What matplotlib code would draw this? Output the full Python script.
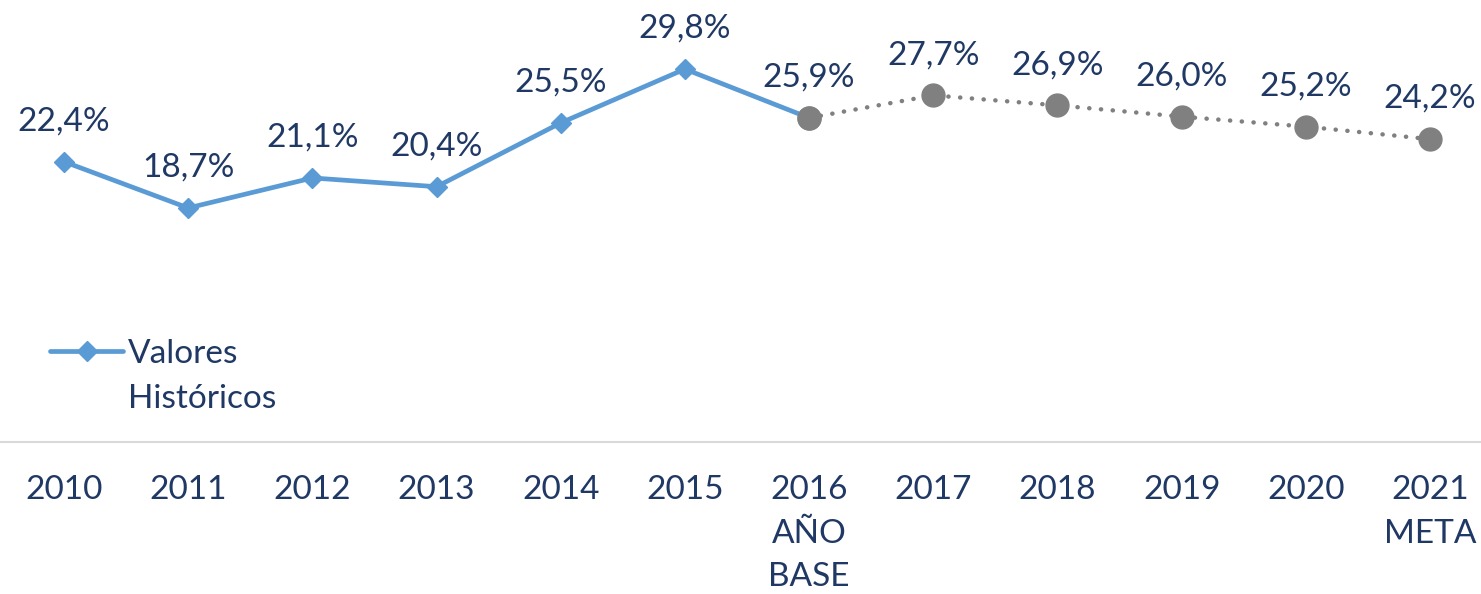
import matplotlib
matplotlib.use("Agg")
import matplotlib.pyplot as plt
from matplotlib.lines import Line2D

categories = ["2010", "2011", "2012", "2013", "2014", "2015", "2016\nAÑO\nBASE",
              "2017", "2018", "2019", "2020", "2021\nMETA"]
historical = [22.4, 18.7, 21.1, 20.4, 25.5, 29.8, 25.9]
projected = [25.9, 27.7, 26.9, 26.0, 25.2, 24.2]
legend_label = "Valores\nHistóricos"

BLUE = "#5B9BD5"
GRAY = "#808080"
TEXT = "#1F3864"
FS = 24

plt.rcParams['font.family'] = ['Lato', 'DejaVu Sans']

W, H = 1481, 594
fig = plt.figure(figsize=(W / 100, H / 100), dpi=100)
ax = fig.add_axes([0, 1 - 442 / H, 1, 438 / H])

x_hist = list(range(len(historical)))
x_proj = list(range(len(historical) - 1, len(historical) - 1 + len(projected)))

ax.plot(x_proj, projected, color=GRAY, lw=3.2, linestyle=(0, (0.05, 2.6)),
        dash_capstyle='round', solid_capstyle='round', zorder=2)
ax.plot(x_proj, projected, linestyle='none', marker='o', ms=16.5, color=GRAY, zorder=3)
ax.plot(x_hist, historical, color=BLUE, lw=3.4, marker='D', ms=10, zorder=4,
        solid_capstyle='round')
ax.plot(x_proj[:1], projected[:1], linestyle='none', marker='o', ms=16.5, color=GRAY, zorder=5)

values = historical[:-1] + projected
for i, v in enumerate(values):
    ax.annotate(f"{v:.1f}%".replace('.', ','), (i, v), xytext=(0, 29),
                textcoords='offset points', ha='center', va='center',
                fontsize=FS, color=TEXT)

ax.set_xlim(-64 / 124.18, 11 + 51 / 124.18)
ax.set_ylim(0, 35)
ax.set_xticks(range(len(categories)))
ax.set_xticklabels(categories, fontsize=FS, color=TEXT, linespacing=1.56)
ax.tick_params(axis='x', length=0, pad=24)
ax.set_yticks([])
for s in ['top', 'right', 'left']:
    ax.spines[s].set_visible(False)
ax.spines['bottom'].set_color('#D9D9D9')
ax.spines['bottom'].set_linewidth(1.5)

# manual legend (handle aligned with first text line, as in the reference)
leg_y = 1 - 351 / H
handle = Line2D([50 / W, 123 / W], [leg_y, leg_y], transform=fig.transFigure,
                color=BLUE, lw=3.4, solid_capstyle='round')
fig.add_artist(handle)
mark = Line2D([87 / W], [leg_y], transform=fig.transFigure, color=BLUE,
              marker='D', ms=10, linestyle='none')
fig.add_artist(mark)
fig.text(128 / W, 1 - 339 / H, legend_label, ha='left', va='top',
         fontsize=FS, color=TEXT, linespacing=1.62)

fig.savefig("out.png", dpi=100, facecolor='white')
